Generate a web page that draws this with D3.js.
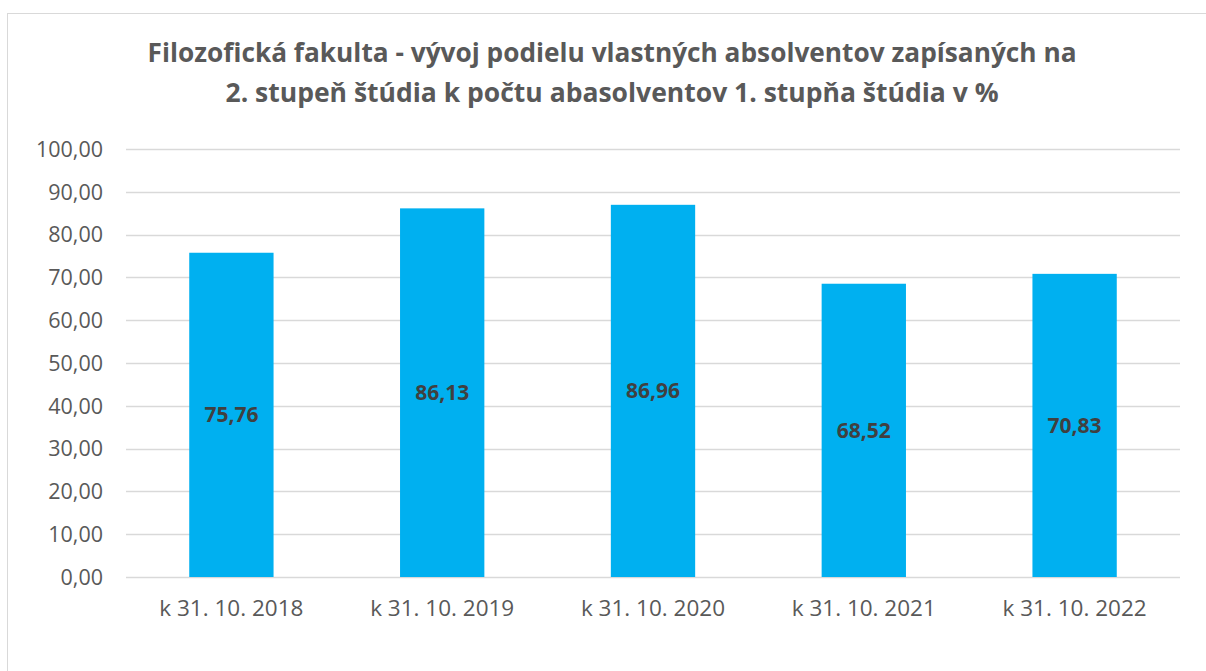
<!DOCTYPE html>
<html>
<head>
<meta charset="utf-8">
<script src="https://cdn.jsdelivr.net/npm/d3@7"></script>
<style>
  body { margin: 0; background: #fff; }
  svg { display: block; }
</style>
</head>
<body>
<svg></svg>
<script>
// Chart data
const categories = ["k 31. 10. 2018", "k 31. 10. 2019", "k 31. 10. 2020", "k 31. 10. 2021", "k 31. 10. 2022"];
const values = [75.76, 86.13, 86.96, 68.52, 70.83];
const yTicks = [0, 10, 20, 30, 40, 50, 60, 70, 80, 90, 100];
const titleLines = [
    "Filozofická fakulta - vývoj podielu vlastných absolventov zapísaných na",
    "2. stupeň štúdia k počtu abasolventov 1. stupňa štúdia v %"
];

const width = 1206;
const height = 671;

const svg = d3.select("svg")
    .attr("width", width)
    .attr("height", height);

// Chart frame
svg.append("rect")
    .attr("x", 7.5)
    .attr("y", 13.5)
    .attr("width", width)
    .attr("height", height)
    .attr("fill", "#fff")
    .attr("stroke", "#d9d9d9")
    .attr("stroke-width", 1);

// Plot area
const plot = { left: 126, right: 1180, top: 149, bottom: 577 };

const x = d3.scaleBand()
    .domain(categories)
    .range([plot.left, plot.right])
    .paddingInner(0.6)
    .paddingOuter(0.3);

const y = d3.scaleLinear()
    .domain([0, 100])
    .range([plot.bottom, plot.top]);

// Title
const titleWidths = [929, 773];
svg.append("g")
    .selectAll("text")
    .data(titleLines)
    .enter()
    .append("text")
    .attr("x", 612)
    .attr("y", (d, i) => 62 + i * 40)
    .attr("text-anchor", "middle")
    .attr("textLength", (d, i) => titleWidths[i])
    .attr("lengthAdjust", "spacingAndGlyphs")
    .style("font-family", "'Liberation Sans Narrow', 'Open Sans', sans-serif")
    .style("font-weight", "bold")
    .style("font-size", "27px")
    .style("fill", "#595959")
    .text(d => d);

// Gridlines
svg.append("g")
    .selectAll("line")
    .data(yTicks)
    .enter()
    .append("line")
    .attr("x1", plot.left)
    .attr("x2", plot.right)
    .attr("y1", d => Math.round(y(d)) + 0.5)
    .attr("y2", d => Math.round(y(d)) + 0.5)
    .attr("stroke", "#d9d9d9")
    .attr("stroke-width", 1.5);

// Y axis labels
const fmt = d => d3.format(".2f")(d).replace(".", ",");
svg.append("g")
    .selectAll("text")
    .data(yTicks)
    .enter()
    .append("text")
    .attr("x", 103)
    .attr("y", d => y(d))
    .attr("dy", "0.36em")
    .attr("text-anchor", "end")
    .style("font-family", "'Open Sans', sans-serif")
    .style("font-size", "21.5px")
    .style("fill", "#595959")
    .text(fmt);

// Bars
svg.append("g")
    .selectAll("rect")
    .data(values)
    .enter()
    .append("rect")
    .attr("x", (d, i) => x(categories[i]))
    .attr("y", d => y(d))
    .attr("width", x.bandwidth())
    .attr("height", d => y(0) - y(d))
    .attr("fill", "#00b0f0");

// Value labels
svg.append("g")
    .selectAll("text")
    .data(values)
    .enter()
    .append("text")
    .attr("x", (d, i) => x(categories[i]) + x.bandwidth() / 2)
    .attr("y", d => (y(d) + y(0)) / 2)
    .attr("dy", "0.36em")
    .attr("text-anchor", "middle")
    .style("font-family", "'Open Sans', sans-serif")
    .style("font-weight", "bold")
    .style("font-size", "21px")
    .style("fill", "#404040")
    .text(fmt);

// X axis labels
svg.append("g")
    .selectAll("text")
    .data(categories)
    .enter()
    .append("text")
    .attr("x", d => x(d) + x.bandwidth() / 2)
    .attr("y", 616)
    .attr("text-anchor", "middle")
    .style("font-family", "'Open Sans', sans-serif")
    .style("font-size", "22.5px")
    .style("fill", "#595959")
    .text(d => d);
</script>
</body>
</html>
